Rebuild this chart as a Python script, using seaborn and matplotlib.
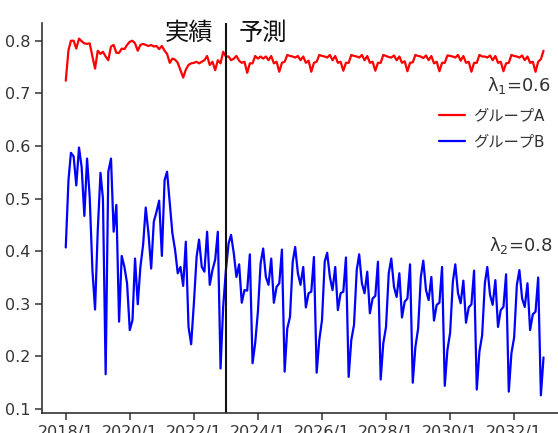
import numpy as np
import pandas as pd
import seaborn as sns
import matplotlib.pyplot as plt
import matplotlib.dates as mdates
from matplotlib.ticker import FuncFormatter

# monthly values, 2018/1 .. 2032/12 (actuals up to 2022/12, forecast after)
group_a = [
    0.724, 0.782, 0.800, 0.800, 0.785, 0.804, 0.799, 0.795, 0.794, 0.795, 0.770, 0.747,
    0.781, 0.775, 0.779, 0.770, 0.763, 0.789, 0.792, 0.777, 0.777, 0.785, 0.784, 0.792,
    0.798, 0.800, 0.795, 0.781, 0.792, 0.794, 0.792, 0.790, 0.792, 0.789, 0.790, 0.784,
    0.790, 0.781, 0.775, 0.758, 0.766, 0.764, 0.758, 0.744, 0.730, 0.745, 0.754, 0.757,
    0.758, 0.760, 0.757, 0.760, 0.763, 0.771, 0.754, 0.760, 0.744, 0.763, 0.757, 0.779,
    0.770, 0.770, 0.763, 0.766, 0.771, 0.762, 0.758, 0.760, 0.739, 0.757, 0.757, 0.771,
    0.766, 0.770, 0.766, 0.770, 0.763, 0.771, 0.757, 0.760, 0.741, 0.758, 0.760, 0.773,
    0.771, 0.770, 0.768, 0.771, 0.763, 0.770, 0.758, 0.762, 0.741, 0.758, 0.760, 0.773,
    0.771, 0.770, 0.768, 0.773, 0.763, 0.771, 0.758, 0.760, 0.743, 0.758, 0.758, 0.773,
    0.771, 0.770, 0.768, 0.773, 0.763, 0.771, 0.758, 0.760, 0.743, 0.758, 0.758, 0.773,
    0.771, 0.769, 0.768, 0.772, 0.763, 0.770, 0.758, 0.761, 0.742, 0.758, 0.759, 0.773,
    0.771, 0.770, 0.767, 0.772, 0.763, 0.771, 0.757, 0.760, 0.742, 0.758, 0.758, 0.772,
    0.771, 0.770, 0.768, 0.773, 0.762, 0.771, 0.758, 0.760, 0.741, 0.758, 0.758, 0.773,
    0.770, 0.770, 0.768, 0.772, 0.763, 0.771, 0.758, 0.760, 0.742, 0.757, 0.758, 0.773,
    0.771, 0.770, 0.768, 0.772, 0.763, 0.770, 0.758, 0.760, 0.741, 0.760, 0.765, 0.781,
]
group_b = [
    0.407, 0.535, 0.587, 0.580, 0.525, 0.597, 0.560, 0.467, 0.576, 0.503, 0.364, 0.289,
    0.440, 0.549, 0.500, 0.166, 0.551, 0.576, 0.437, 0.488, 0.266, 0.391, 0.370, 0.339,
    0.250, 0.269, 0.386, 0.299, 0.370, 0.412, 0.483, 0.434, 0.367, 0.456, 0.475, 0.496,
    0.391, 0.535, 0.551, 0.491, 0.434, 0.402, 0.358, 0.370, 0.334, 0.418, 0.256, 0.223,
    0.301, 0.389, 0.422, 0.370, 0.361, 0.437, 0.336, 0.364, 0.384, 0.437, 0.177, 0.294,
    0.364, 0.415, 0.431, 0.396, 0.351, 0.375, 0.302, 0.326, 0.325, 0.394, 0.187, 0.225,
    0.285, 0.377, 0.405, 0.351, 0.336, 0.386, 0.302, 0.332, 0.339, 0.403, 0.171, 0.253,
    0.275, 0.380, 0.408, 0.358, 0.336, 0.370, 0.293, 0.320, 0.323, 0.389, 0.169, 0.231,
    0.269, 0.380, 0.397, 0.351, 0.326, 0.370, 0.288, 0.320, 0.323, 0.388, 0.161, 0.231,
    0.260, 0.364, 0.394, 0.339, 0.320, 0.361, 0.282, 0.310, 0.315, 0.380, 0.156, 0.225,
    0.256, 0.358, 0.386, 0.332, 0.313, 0.358, 0.274, 0.304, 0.310, 0.375, 0.150, 0.218,
    0.253, 0.351, 0.382, 0.326, 0.307, 0.351, 0.268, 0.298, 0.302, 0.370, 0.144, 0.212,
    0.245, 0.342, 0.375, 0.320, 0.301, 0.344, 0.264, 0.293, 0.299, 0.363, 0.137, 0.209,
    0.240, 0.339, 0.370, 0.317, 0.298, 0.345, 0.256, 0.288, 0.294, 0.356, 0.133, 0.206,
    0.236, 0.336, 0.364, 0.310, 0.294, 0.339, 0.250, 0.280, 0.285, 0.350, 0.126, 0.198,
]
label_a = "グループA"
label_b = "グループB"
split_date = pd.Timestamp("2023-01-01")
yticks = [0.1, 0.2, 0.3, 0.4, 0.5, 0.6, 0.7, 0.8]

months = pd.date_range("2018-01-01", periods=len(group_a), freq="MS")

sns.set_theme(style="ticks")
plt.rcParams['font.family'] = ['DejaVu Sans', 'Noto Sans CJK JP']
dark = "#333333"

df = pd.DataFrame({"date": months, label_a: group_a, label_b: group_b})
df = df.melt(id_vars="date", var_name="group", value_name="value")

fig = plt.figure(figsize=(5.58, 4.33), dpi=100)
ax = fig.add_axes([42 / 558, 20 / 433, 516 / 558, 390 / 433])
sns.lineplot(data=df, x="date", y="value", hue="group", palette=["red", "blue"],
             linewidth=1.6, ax=ax, legend=True)

ax.axvline(split_date, color="#111111", lw=1.5)

# x range: ~8.9 months before the first point, runs past the right edge
start = mdates.date2num(months[0])
ax.set_xlim(start - 8.9 * 30.44, start + 184.4 * 30.44)
ax.set_ylim(0.0924, 0.8337)
ax.set_yticks(yticks)
ax.set_yticklabels([f"{v:.1f}" for v in yticks])
ax.xaxis.set_major_locator(mdates.YearLocator(2, month=1, day=1))
ax.xaxis.set_major_formatter(FuncFormatter(
    lambda v, p: f"{mdates.num2date(v).year}/{mdates.num2date(v).month}"))
ax.set_xlabel("")
ax.set_ylabel("")
sns.despine(ax=ax)
for s in ["left", "bottom"]:
    ax.spines[s].set_color(dark)
    ax.spines[s].set_linewidth(1.2)
ax.tick_params(colors=dark, labelsize=11.5, length=5, width=1.1)

ax.annotate("実績", xy=(split_date, 0.975), xycoords=("data", "axes fraction"),
            xytext=(-9, 0), textcoords="offset points", ha="right", va="center",
            fontsize=17.5, color="#111111")
ax.annotate("予測", xy=(split_date, 0.975), xycoords=("data", "axes fraction"),
            xytext=(9, 0), textcoords="offset points", ha="left", va="center",
            fontsize=17.5, color="#111111")

fig.text(551 / 558, 1 - 85 / 433, "λ$_1$=0.6", ha="right", va="center",
         fontsize=13, color=dark)
fig.text(552 / 558, 1 - 246 / 433, "λ$_2$=0.8", ha="right", va="center",
         fontsize=13, color=dark)

ax.legend(loc="upper left", bbox_to_anchor=(439 / 558, 1 - 108 / 433),
          bbox_transform=fig.transFigure, frameon=False, fontsize=11,
          handlelength=1.7, handletextpad=0.5, borderpad=0, borderaxespad=0,
          labelspacing=0.75, labelcolor=dark)

fig.savefig("out.png", dpi=100)
